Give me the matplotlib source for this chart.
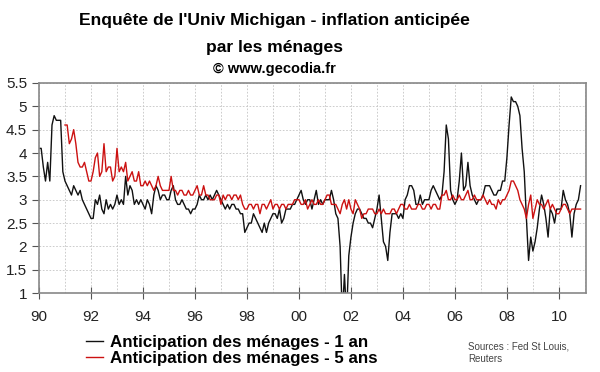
import numpy as np
import matplotlib.pyplot as plt
from matplotlib.ticker import MultipleLocator

plt.rcParams['font.family'] = ['Liberation Sans', 'DejaVu Sans']

# monthly values, 1-year expectations (Jan 1990 - Nov 2010)
un_an = [
    4.1, 4.1, 3.7, 3.4, 3.8, 3.4, 4.6, 4.8, 4.7, 4.7, 4.7, 3.6,   # 1990
    3.4, 3.3, 3.2, 3.1, 3.3, 3.2, 3.1, 3.2, 3.0, 2.9, 2.8, 2.7,   # 1991
    2.6, 2.6, 3.0, 2.9, 3.1, 2.8, 2.7, 3.0, 2.8, 2.9, 2.8, 2.9,   # 1992
    3.1, 2.9, 3.0, 2.9, 3.5, 3.1, 3.3, 3.2, 2.9, 3.0, 2.9, 3.0,   # 1993
    2.9, 2.8, 3.0, 2.9, 2.7, 3.1, 3.3, 3.2, 3.0, 3.1, 3.1, 3.0,   # 1994
    3.0, 3.2, 3.3, 3.0, 2.9, 2.9, 3.0, 2.9, 2.8, 2.8, 2.7, 2.8,   # 1995
    2.8, 2.9, 3.1, 3.0, 3.0, 3.1, 3.0, 3.1, 3.0, 3.1, 3.2, 3.1,   # 1996
    3.0, 2.9, 2.8, 2.9, 2.8, 2.9, 2.9, 2.8, 2.8, 2.7, 2.7, 2.3,   # 1997
    2.4, 2.5, 2.5, 2.7, 2.6, 2.5, 2.4, 2.3, 2.5, 2.3, 2.5, 2.6,   # 1998
    2.7, 2.7, 2.6, 2.8, 2.5, 2.6, 2.8, 2.8, 2.8, 2.9, 2.9, 3.0,   # 1999
    3.1, 3.2, 3.0, 2.9, 3.0, 3.0, 2.8, 3.0, 3.2, 2.9, 3.0, 2.9,   # 2000
    3.0, 3.0, 3.0, 3.2, 3.0, 2.7, 2.6, 2.0, 0.5, 1.4, 0.5, 1.8,   # 2001
    2.2, 2.5, 2.7, 2.8, 2.8, 2.7, 2.6, 2.6, 2.5, 2.5, 2.4, 2.6,   # 2002
    2.8, 3.1, 2.6, 2.1, 2.0, 1.7, 2.3, 2.7, 2.7, 2.7, 2.6, 2.7,   # 2003
    2.6, 3.0, 3.1, 3.3, 3.3, 3.2, 2.9, 2.9, 3.1, 2.9, 3.0, 3.0,   # 2004
    3.0, 3.2, 3.3, 3.2, 3.1, 3.0, 3.1, 3.6, 4.6, 4.3, 3.2, 3.0,   # 2005
    2.9, 3.0, 3.4, 4.0, 3.2, 3.3, 3.8, 3.3, 3.1, 3.0, 2.9, 3.0,   # 2006
    3.0, 3.1, 3.3, 3.3, 3.3, 3.2, 3.1, 3.1, 3.2, 3.2, 3.4, 3.4,   # 2007
    3.9, 4.6, 5.2, 5.1, 5.1, 5.0, 4.8, 4.1, 3.6, 2.6, 1.7, 2.2,   # 2008
    1.9, 2.1, 2.4, 2.8, 3.1, 2.9, 2.6, 2.2, 2.8, 2.7, 2.5, 2.8,   # 2009
    2.8, 2.8, 3.2, 3.0, 2.9, 2.7, 2.2, 2.7, 2.9, 3.0, 3.3,        # 2010
]

# monthly values, 5-year expectations (Jan 1991 - Nov 2010)
cinq_ans = [
    4.6, 4.6, 4.2, 4.3, 4.5, 4.2, 3.8, 3.7, 3.7, 3.8, 3.6, 3.4,   # 1991
    3.4, 3.6, 3.9, 4.0, 3.5, 3.6, 4.2, 3.6, 3.7, 3.7, 3.4, 3.5,   # 1992
    4.1, 3.6, 3.7, 3.6, 3.8, 3.4, 3.5, 3.6, 3.4, 3.4, 3.6, 3.3,   # 1993
    3.3, 3.4, 3.3, 3.4, 3.3, 3.2, 3.3, 3.5, 3.3, 3.2, 3.2, 3.2,   # 1994
    3.2, 3.5, 3.2, 3.2, 3.1, 3.2, 3.2, 3.1, 3.1, 3.2, 3.1, 3.1,   # 1995
    3.2, 3.3, 3.1, 3.1, 3.3, 3.1, 3.1, 3.0, 3.0, 3.0, 3.1, 3.1,   # 1996
    2.9, 3.1, 3.0, 3.1, 3.1, 3.0, 3.1, 3.1, 3.0, 3.1, 2.9, 2.8,   # 1997
    2.8, 2.9, 2.9, 2.8, 2.9, 2.9, 2.7, 2.9, 2.9, 2.8, 2.9, 3.0,   # 1998
    2.8, 2.9, 2.9, 2.8, 2.9, 2.9, 2.8, 2.9, 2.9, 2.9, 3.0, 3.0,   # 1999
    3.0, 2.9, 2.9, 3.0, 2.8, 2.9, 3.0, 2.9, 2.9, 3.0, 2.9, 2.9,   # 2000
    3.0, 3.1, 3.1, 2.9, 2.9, 2.9, 2.8, 2.7, 2.9, 3.0, 2.8, 3.0,   # 2001
    2.8, 2.7, 3.0, 2.9, 2.8, 2.6, 2.7, 2.7, 2.8, 2.8, 2.8, 2.7,   # 2002
    2.7, 2.8, 2.7, 2.8, 2.7, 2.7, 2.7, 2.8, 2.8, 2.7, 2.8, 2.9,   # 2003
    2.9, 2.8, 2.8, 2.9, 2.8, 2.8, 2.8, 2.9, 2.9, 2.8, 2.8, 2.9,   # 2004
    2.9, 2.8, 2.9, 2.9, 2.8, 2.8, 3.1, 3.1, 3.2, 3.0, 3.0, 3.1,   # 2005
    3.0, 3.0, 3.1, 3.0, 3.0, 3.1, 3.2, 3.0, 3.0, 3.1, 3.0, 3.0,   # 2006
    3.0, 3.1, 3.0, 2.9, 3.0, 2.9, 2.9, 2.8, 3.0, 2.9, 3.0, 3.0,   # 2007
    3.1, 3.2, 3.4, 3.4, 3.3, 3.2, 3.0, 2.9, 2.8, 2.6, 2.9, 3.1,   # 2008
    2.6, 2.8, 3.0, 2.9, 2.9, 2.8, 2.9, 3.0, 2.8, 2.9, 2.8, 2.7,   # 2009
    2.7, 2.8, 2.9, 2.9, 2.8, 2.7, 2.8, 2.8, 2.8, 2.8, 2.8,        # 2010
]

x_labels = ['90', '92', '94', '96', '98', '00', '02', '04', '06', '08', '10']

t1 = 1990 + np.arange(len(un_an)) / 12
t5 = 1991 + np.arange(len(cinq_ans)) / 12

fig = plt.figure(figsize=(6, 3.72), dpi=100)
ax = fig.add_axes([0.065, 0.212, 0.912, 0.565])

l1, = ax.plot(t1, un_an, color='#111111', lw=1.0, label='Anticipation des ménages - 1 an')
l5, = ax.plot(t5, cinq_ans, color='#cc1111', lw=1.0, label='Anticipation des ménages - 5 ans')

ax.set_xlim(1990, 2011.05)
ax.set_ylim(1, 5.5)
ax.set_xticks(np.arange(1990, 2011, 2))
ax.set_xticklabels(x_labels)
ax.xaxis.set_minor_locator(MultipleLocator(1))
ax.set_yticks(np.arange(1, 5.51, 0.5))
ax.set_yticklabels(['1', '1.5', '2', '2.5', '3', '3.5', '4', '4.5', '5', '5.5'])

ax.grid(True, which='both', color='#c4c4c4', ls=(0, (2, 2)), lw=0.6)
ax.tick_params(axis='x', which='major', direction='inout', length=8, color='#555555',
               labelsize=11, pad=8, labelcolor='#222222')
ax.tick_params(axis='x', which='minor', length=0)
ax.tick_params(axis='y', direction='out', length=5, color='#555555',
               labelsize=11, labelcolor='#222222')
for s in ax.spines.values():
    s.set_color('#888888')
    s.set_linewidth(1.2)

fig.text(0.458, 0.946, "Enquête de l'Univ Michigan - inflation anticipée",
         ha='center', va='center', fontsize=12.6, fontweight='bold')
fig.text(0.458, 0.873, "par les ménages", ha='center', va='center',
         fontsize=12.6, fontweight='bold')
fig.text(0.458, 0.815, "© www.gecodia.fr", ha='center', va='center',
         fontsize=10.5, fontweight='bold')

fig.legend(handles=[l1, l5], loc='center left', bbox_to_anchor=(0.143, 0.058),
           frameon=False, handlelength=1.0, handletextpad=0.4, labelspacing=0.05,
           borderpad=0, borderaxespad=0, prop={'weight': 'bold', 'size': 12.2})
fig.text(0.78, 0.052, "Sources : Fed St Louis,\nReuters", fontsize=7,
         color='#444444', va='center', linespacing=1.4)

fig.savefig('out.png', dpi=100)
